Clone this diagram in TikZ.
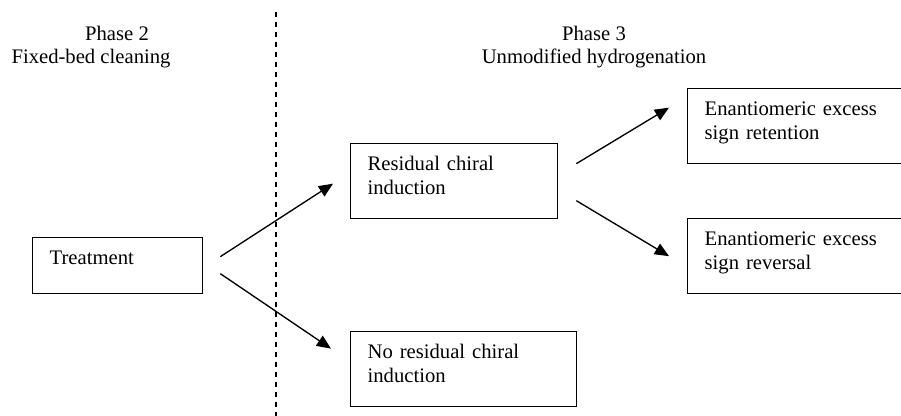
\documentclass[tikz,border=0pt]{standalone}
\usepackage{fontspec}
\setmainfont{Liberation Serif}
\usetikzlibrary{arrows.meta}

\begin{document}
\begin{tikzpicture}[x=0.6pt, y=-0.6pt,
    font=\fontsize{12.4pt}{14.4pt}\selectfont,
    box/.style={draw, line width=0.8pt, rectangle, anchor=north west, align=left,
      inner xsep=10.2pt, inner ysep=0pt, text height=16.2pt, text depth=28.8pt},
    arr/.style={line width=0.8pt, -{Triangle[length=8.5pt, width=7.2pt]}},
    title/.style={anchor=base, inner sep=0pt}]
        \useasboundingbox (0,0) rectangle (901,416);
        \clip (0,0) rectangle (901,416);

        % Phase titles
        \node[title] (ph2) at (117,40) {Phase 2};
        \node[title] (ph2name) at (91,63.5) {Fixed-bed cleaning};
        \node[title] (ph3) at (594,40) {Phase 3};
        \node[title] (ph3name) at (594,64) {Unmodified hydrogenation};

        % Phase divider
        \draw[line width=0.8pt, dash pattern=on 3pt off 3pt] (276,12) -- (276,416);

        % Draw boxes
        \node[box, text width=81.6pt, text depth=17.4pt] (treat) at (32,237) {Treatment};
        \node[box, text width=103.8pt] (resid) at (350,143) {Residual chiral\\induction};
        \node[box, text width=115.2pt] (nores) at (350,331) {No residual chiral\\induction};
        \node[box, text width=131.4pt] (retain) at (687,88) {Enantiomeric excess\\sign retention};
        \node[box, text width=131.4pt] (reverse) at (687,218) {Enantiomeric excess\\sign reversal};

        % Draw arrows
        \draw[arr] ([shift={(17,-9)}]treat.east) -- ([shift={(-17,2.5)}]resid.west);
        \draw[arr] ([shift={(17,8)}]treat.east) -- ([shift={(-19,-20.5)}]nores.west);
        \draw[arr] ([shift={(18,-17.5)}]resid.east) -- ([shift={(-18,-18.5)}]retain.west);
        \draw[arr] ([shift={(18,19.5)}]resid.east) -- ([shift={(-18,0)}]reverse.west);
    \end{tikzpicture}
\end{document}
